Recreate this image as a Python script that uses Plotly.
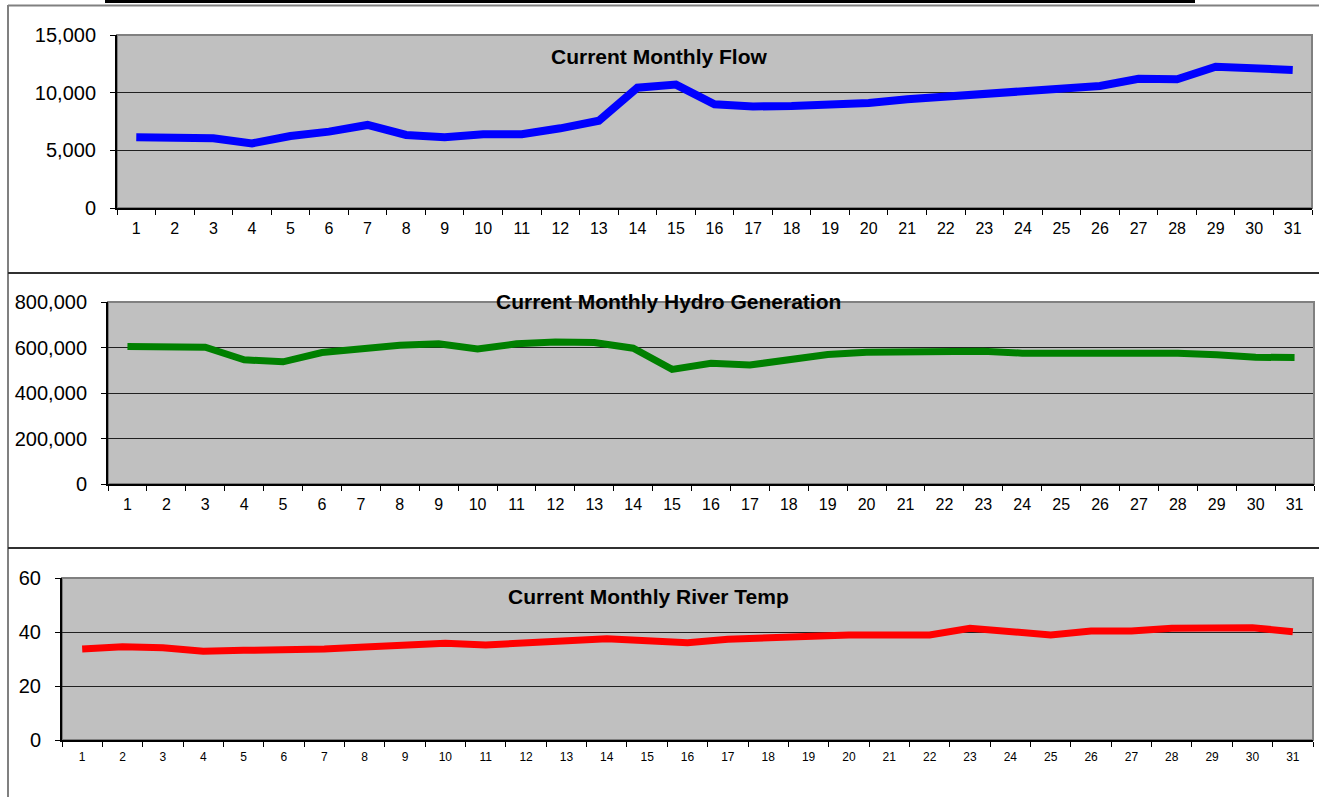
import plotly.graph_objects as go

W, H = 1319, 797

days = [str(d) for d in range(1, 32)]

flow = [6130, 6100, 6040, 5600, 6240, 6620, 7200, 6330, 6130, 6390, 6390, 6910, 7570,
        10430, 10700, 9000, 8800, 8850, 8900, 9100, 9430, 9650, 9900, 10170, 10230,
        10580, 11210, 11160, 12250, 12170, 11970]

hydro = [604000, 604000, 601000, 546000, 537000, 578000, 597000, 610000, 616000, 593000,
         616000, 624000, 622000, 597000, 504000, 531000, 523000, 543000, 569000, 579000,
         582000, 581000, 584000, 575000, 575000, 579000, 578000, 575000, 568000, 557000,
         556000]

temp = [33.7, 34.5, 34.2, 32.9, 33.2, 33.3, 33.7, 34.4, 35.2, 35.8, 35.2, 35.8, 37.0,
        37.5, 36.8, 36.0, 37.3, 37.9, 38.9, 38.9, 38.9, 38.9, 41.4, 40.1, 38.9, 40.4,
        40.4, 41.4, 41.4, 41.6, 40.1]

titles = ["Current Monthly Flow", "Current Monthly Hydro Generation", "Current Monthly River Temp"]
y_ranges = [[0, 15000], [0, 800000], [0, 60]]
y_dticks = [5000, 200000, 20]
colors = ["#0000FF", "#008000", "#FF0000"]
series = [flow, hydro, temp]


def px(x):
    return x / W


def py(y):
    return 1 - y / H


# plot-area pixel boxes (left, right, top, bottom)
boxes = [(117, 1312, 35, 208), (108, 1314, 302, 484), (62, 1313, 578, 740)]
title_pos = [(659, 57), (668, 301), (648, 596)]
xfont = [16, 16, 12]
xstand = [5, 5, 5]
yfont = [20, 20, 20]
lwidth = [8, 7, 7]

FONT = "Arial, Liberation Sans, sans-serif"

fig = go.Figure()
layout = dict(width=W, height=H,
              margin=dict(l=0, r=0, t=0, b=0, pad=0, autoexpand=False),
              paper_bgcolor="white", showlegend=False,
              font=dict(family=FONT, color="black"))
shapes = []
annotations = []

for i in range(3):
    xa = "x" if i == 0 else f"x{i+1}"
    ya = "y" if i == 0 else f"y{i+1}"
    fig.add_trace(go.Scatter(x=days, y=series[i], mode="lines", xaxis=xa, yaxis=ya,
                             line=dict(color=colors[i], width=lwidth[i]), hoverinfo="skip"))
    l, r, t, b = boxes[i]
    layout["xaxis" if i == 0 else f"xaxis{i+1}"] = dict(
        domain=[px(l), px(r)], anchor=ya, type="category", range=[-0.5, 30.5],
        tickson="boundaries", ticks="outside", ticklen=5, tickcolor="black",
        showline=True, linecolor="black", linewidth=2, showgrid=False, automargin=False,
        ticklabelstandoff=xstand[i],
        tickfont=dict(size=xfont[i], family=FONT, color="black"), fixedrange=True)
    layout["yaxis" if i == 0 else f"yaxis{i+1}"] = dict(
        domain=[py(b), py(t)], anchor=xa, range=y_ranges[i], dtick=y_dticks[i],
        tickformat=",d", ticks="outside", ticklen=5, tickcolor="black",
        showline=True, linecolor="black", linewidth=2, showgrid=True, automargin=False,
        gridcolor="#202020", gridwidth=1, zeroline=False, ticklabelstandoff=10,
        tickfont=dict(size=yfont[i], family=FONT, color="black"), fixedrange=True)
    shapes.append(dict(type="rect", xref="paper", yref="paper", x0=px(l), x1=px(r),
                       y0=py(b), y1=py(t), line=dict(color="#808080", width=2),
                       fillcolor="#C0C0C0", layer="below"))
    shapes.append(dict(type="line", xref="paper", yref="paper", x0=px(l), x1=px(r),
                       y0=py(t), y1=py(t), line=dict(color="#808080", width=2)))
    shapes.append(dict(type="line", xref="paper", yref="paper", x0=px(r), x1=px(r),
                       y0=py(b), y1=py(t), line=dict(color="#808080", width=2)))
    tx, ty = title_pos[i]
    annotations.append(dict(text="<b>" + titles[i] + "</b>", xref="paper", yref="paper",
                            x=px(tx), y=py(ty), xanchor="center", yanchor="middle",
                            showarrow=False, font=dict(size=21, family=FONT, color="black")))

# outer frame
shapes.append(dict(type="line", xref="paper", yref="paper", x0=px(105), x1=px(1195),
                   y0=py(1.5), y1=py(1.5), line=dict(color="black", width=3)))
shapes.append(dict(type="line", xref="paper", yref="paper", x0=px(8), x1=1,
                   y0=py(5.5), y1=py(5.5), line=dict(color="#808080", width=2)))
shapes.append(dict(type="line", xref="paper", yref="paper", x0=px(8), x1=px(8),
                   y0=py(5), y1=0, line=dict(color="#808080", width=2)))
for yy in (273, 548):
    shapes.append(dict(type="line", xref="paper", yref="paper", x0=px(8), x1=1,
                       y0=py(yy), y1=py(yy), line=dict(color="#303030", width=2)))

layout["shapes"] = shapes
layout["annotations"] = annotations
layout["plot_bgcolor"] = "#C0C0C0"
fig.update_layout(**layout)
fig.write_html("out.html", config={"displayModeBar": False},
               post_script=("document.body.style.margin='0';"
                            "document.body.style.overflow='hidden';"))
